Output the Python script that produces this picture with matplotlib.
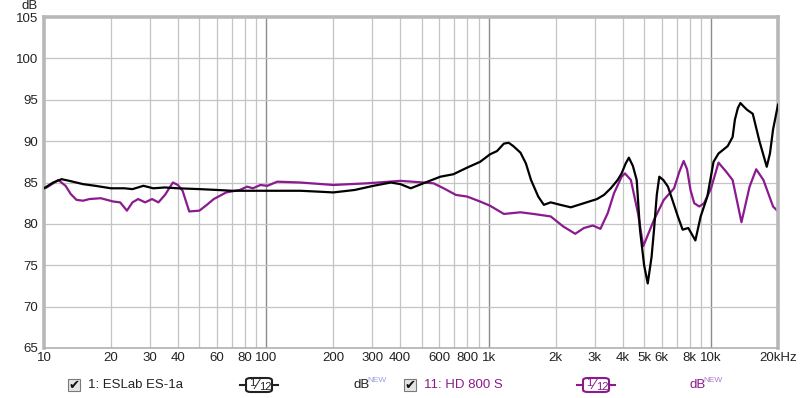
import matplotlib
matplotlib.use('Agg')
import matplotlib.pyplot as plt
from matplotlib.patches import FancyBboxPatch, Rectangle
from matplotlib.lines import Line2D
from matplotlib.ticker import FixedLocator, NullFormatter

plt.rcParams['font.family'] = ['Liberation Sans', 'DejaVu Sans']

es1a_freq = [10, 11, 12, 13, 15, 17, 20, 23, 25, 28, 31, 35, 40, 50, 60, 70, 80,
             100, 120, 142, 170, 200, 250, 303, 363, 401, 446, 508, 606, 694, 800,
             915, 1013, 1090, 1170, 1230, 1290, 1390, 1470, 1550, 1670, 1770, 1900,
             2100, 2340, 2680, 3070, 3300, 3540, 3800, 3960, 4130, 4270, 4450, 4630,
             4790, 5000, 5190, 5400, 5540, 5700, 5850, 6100, 6400, 7090, 7450, 7900,
             8500, 8980, 9620, 10260, 10800, 11880, 12500, 12800, 13200, 13550, 14000,
             14500, 15400, 16500, 17800, 18400, 19000, 20000]
es1a_db = [84.3, 85.0, 85.4, 85.2, 84.8, 84.6, 84.3, 84.3, 84.2, 84.6, 84.3, 84.4,
           84.3, 84.2, 84.1, 84.0, 84.0, 84.0, 84.0, 84.0, 83.9, 83.8, 84.1, 84.6,
           85.0, 84.8, 84.3, 84.9, 85.7, 86.0, 86.8, 87.5, 88.4, 88.8, 89.7, 89.8,
           89.4, 88.6, 87.3, 85.3, 83.3, 82.3, 82.6, 82.3, 82.0, 82.5, 83.0, 83.5,
           84.3, 85.3, 86.1, 87.3, 88.0, 87.0, 85.3, 79.3, 75.0, 72.8, 76.0, 79.3,
           83.5, 85.7, 85.3, 84.5, 80.9, 79.3, 79.5, 78.0, 80.9, 83.3, 87.5, 88.5,
           89.4, 90.5, 92.6, 94.0, 94.6, 94.2, 93.8, 93.3, 90.0, 86.9, 88.5, 91.4,
           94.4]

hd800_freq = [10, 11, 11.6, 12.5, 13.2, 14, 15, 16, 18, 20.5, 22, 23.6, 25, 26.5,
              28.5, 30.6, 32.7, 35, 38, 40, 42, 45, 50, 54, 58, 66, 76, 82, 87, 94,
              101, 112, 142, 200, 283, 401, 508, 565, 627, 712, 800, 915, 1013, 1170,
              1390, 1590, 1900, 2160, 2450, 2680, 2940, 3180, 3430, 3660, 3960, 4100,
              4360, 4690, 4955, 5540, 6130, 6820, 7200, 7530, 7800, 8080, 8400, 8850,
              9300, 10000, 10800, 11700, 12500, 13700, 14900, 15960, 17200, 19000,
              20000]
hd800_db = [84.2, 84.9, 85.3, 84.6, 83.6, 82.9, 82.8, 83.0, 83.1, 82.7, 82.6, 81.6,
            82.6, 83.0, 82.6, 83.0, 82.6, 83.5, 85.0, 84.7, 84.0, 81.5, 81.6, 82.3,
            83.0, 83.8, 84.1, 84.5, 84.3, 84.7, 84.6, 85.1, 85.0, 84.7, 84.9, 85.2,
            85.0, 84.9, 84.3, 83.5, 83.3, 82.7, 82.2, 81.2, 81.4, 81.2, 80.9, 79.7,
            78.8, 79.5, 79.8, 79.4, 81.3, 83.7, 85.7, 86.1, 85.3, 81.3, 77.3, 80.5,
            82.9, 84.3, 86.3, 87.6, 86.6, 84.1, 82.5, 82.1, 82.5, 84.3, 87.4, 86.3,
            85.3, 80.2, 84.5, 86.6, 85.3, 82.1, 81.5]

x_ticks = [10, 20, 30, 40, 60, 80, 100, 200, 300, 400, 600, 800, 1000, 2000,
           3000, 4000, 5000, 6000, 8000, 10000, 20000]
x_labels = ['10', '20', '30', '40', '60', '80', '100', '200', '300', '400', '600',
            '800', '1k', '2k', '3k', '4k', '5k', '6k', '8k', '10k', '20kHz']
y_ticks = [65, 70, 75, 80, 85, 90, 95, 100, 105]

purple = '#8b1a8e'

fig = plt.figure(figsize=(8, 3.98), dpi=100)
ax = fig.add_axes([44 / 800, 50 / 398, 734 / 800, 331 / 398])

ax.set_xscale('log')
ax.set_xlim(10, 20000)
ax.set_ylim(65, 105)

# grid: every 1-9 step per decade, decades darker
minor = [m * 10 ** d for d in range(1, 5) for m in range(2, 10) if m * 10 ** d < 20000]
for f in minor:
    ax.axvline(f, color='#c4c4c4', lw=0.9, zorder=0)
for f in [100, 1000, 10000]:
    ax.axvline(f, color='#8c8c8c', lw=1.0, zorder=0)
for y in y_ticks[1:-1]:
    ax.axhline(y, color='#c4c4c4', lw=0.9, zorder=0)

ax.plot(es1a_freq, es1a_db, color='black', lw=1.6, zorder=3)
ax.plot(hd800_freq, hd800_db, color=purple, lw=1.6, zorder=2)

ax.xaxis.set_major_locator(FixedLocator(x_ticks))
ax.set_xticklabels(x_labels)
ax.xaxis.set_minor_formatter(NullFormatter())
ax.set_yticks(y_ticks)
ax.tick_params(axis='both', which='both', length=0, labelsize=9.5, colors='#222222')
ax.tick_params(axis='x', pad=3)
ax.tick_params(axis='y', pad=4)

for side in ['left', 'top', 'right']:
    ax.spines[side].set_color('#b8b8b8')
    ax.spines[side].set_linewidth(2.6)
ax.spines['bottom'].set_color('#b0b0b0')
ax.spines['bottom'].set_linewidth(1.2)

fig.text(30 / 800, 1 - 6 / 398, 'dB', fontsize=9.5, ha='center', va='center', color='#222222')

# legend row under the plot
ly = 1 - 385 / 398
px = 1 / 800
py = 1 / 398


def legend_entry(cx_box, x_text, label, cx_frac, x_db, color, nw_color):
    fig.patches.append(Rectangle((cx_box - 6 * px, ly - 6 * py), 12 * px, 12 * py,
                                 transform=fig.transFigure, facecolor='#e4e4e4',
                                 edgecolor='#7a7a7a', lw=0.8))
    fig.text(cx_box, ly, '\u2714', fontsize=9.5, ha='center', va='center',
             color='#111111', family='DejaVu Sans')
    fig.text(x_text, ly, label, fontsize=9.5, ha='left', va='center', color=color)
    # smoothing symbol: short line, rounded box, 1/12
    w = 26 * px
    for a, b in [(cx_frac - 19 * px, cx_frac - w / 2), (cx_frac + w / 2, cx_frac + 19 * px)]:
        fig.lines.append(Line2D([a, b], [ly, ly], transform=fig.transFigure,
                                color=color, lw=1.5))
    fig.patches.append(FancyBboxPatch((cx_frac - w / 2, ly - 7 * py), w, 14 * py,
                                      boxstyle='round,pad=0,rounding_size=0.006',
                                      transform=fig.transFigure, facecolor='white',
                                      edgecolor=color, lw=1.5))
    fig.text(cx_frac - 7 * px, ly + 2 * py, '1', fontsize=8, ha='center', va='center',
             color=color)
    fig.text(cx_frac - 2 * px, ly, '\u2044', fontsize=10, ha='center', va='center',
             color=color, family='DejaVu Sans')
    fig.text(cx_frac + 6 * px, ly - 2 * py, '12', fontsize=8, ha='center',
             va='center', color=color)
    fig.text(x_db, ly, 'dB', fontsize=9.5, ha='left', va='center', color=color)
    fig.text(x_db + 14 * px, ly + 4 * py, 'NEW', fontsize=6, ha='left',
             va='center', color=nw_color)


legend_entry(74 * px, 88 * px, '1: ESLab ES-1a', 259 * px, 353 * px, '#222222', '#9d9de6')
legend_entry(410 * px, 424 * px, '11: HD 800 S', 596 * px, 689 * px, purple, '#b07ad0')

fig.savefig('out.png', dpi=100)
